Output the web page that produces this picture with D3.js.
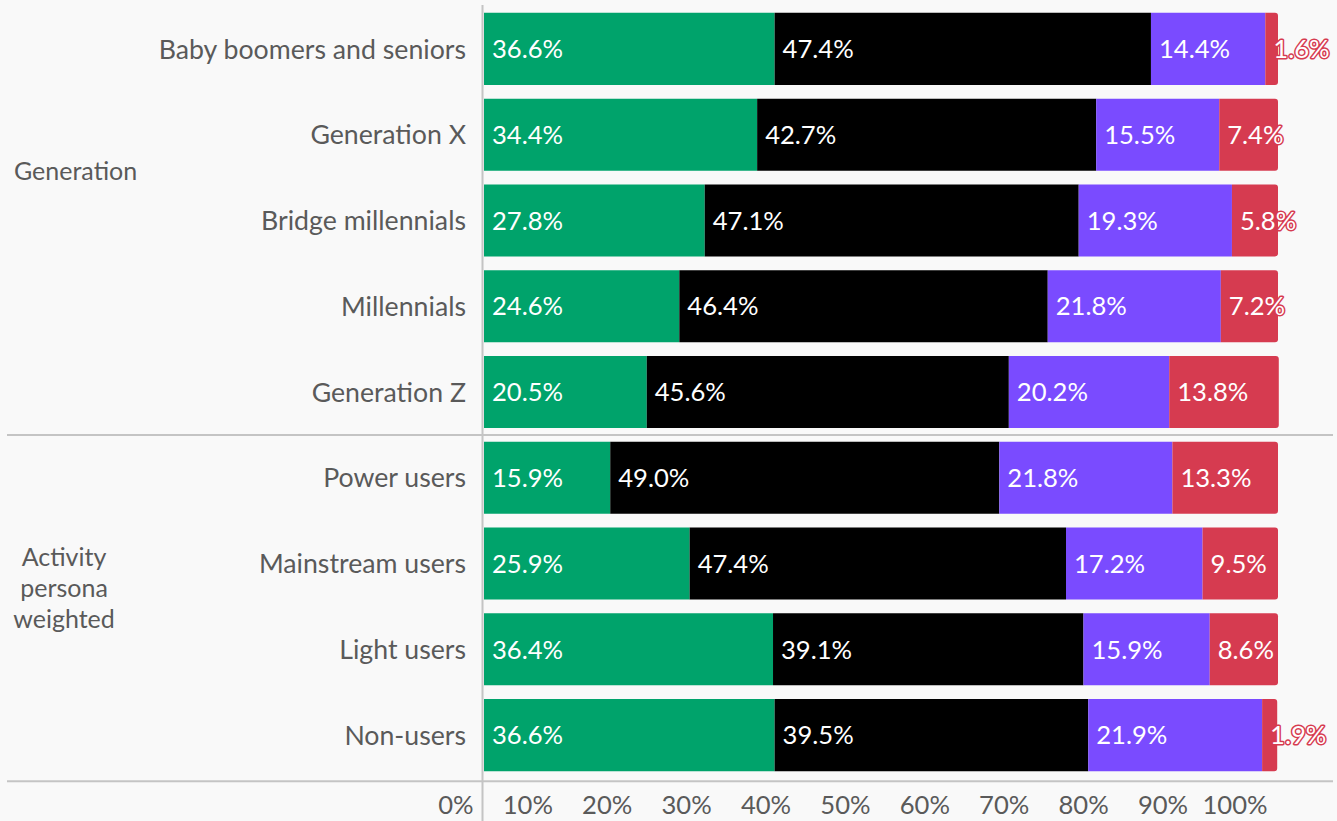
<!DOCTYPE html>
<html>
<head>
<meta charset="utf-8">
<script src="https://cdn.jsdelivr.net/npm/d3@7"></script>
<style>
  html, body { margin: 0; padding: 0; background: #f9f9f9; }
  svg { display: block; font-family: Lato, "Open Sans", sans-serif; }
</style>
</head>
<body>
<svg id="chart" width="1337" height="821"></svg>
<script>
// Row categories, top to bottom
const categories = [
  "Baby boomers and seniors", "Generation X", "Bridge millennials", "Millennials", "Generation Z",
  "Power users", "Mainstream users", "Light users", "Non-users"
];
// Group each row belongs to
const rowGroups = [
  "Generation", "Generation", "Generation", "Generation", "Generation",
  "Activity", "Activity", "Activity", "Activity"
];
// Stacked shares (%) per row, in stacking order
const seriesGreen  = [36.6, 34.4, 27.8, 24.6, 20.5, 15.9, 25.9, 36.4, 36.6];
const seriesBlack  = [47.4, 42.7, 47.1, 46.4, 45.6, 49.0, 47.4, 39.1, 39.5];
const seriesPurple = [14.4, 15.5, 19.3, 21.8, 20.2, 21.8, 17.2, 15.9, 21.9];
const seriesRed    = [1.6, 7.4, 5.8, 7.2, 13.8, 13.3, 9.5, 8.6, 1.9];
const tickValues = [0, 10, 20, 30, 40, 50, 60, 70, 80, 90, 100];
const groupLabels = [
  { name: "Generation", lines: ["Generation"] },
  { name: "Activity", lines: ["Activity", "persona", "weighted"] }
];

const series = [
  { key: "green",  values: seriesGreen,  color: "#00a36b" },
  { key: "black",  values: seriesBlack,  color: "#000000" },
  { key: "purple", values: seriesPurple, color: "#7a4bff" },
  { key: "red",    values: seriesRed,    color: "#d63b50" }
];

const svg = d3.select("#chart");
const W = 1337, H = 821;
const FS = 25;          // group labels
const FS_CAT = 26.7;    // row labels
const FS_VAL = 25.6;    // value and tick labels
const textGray = "#5a5a5a";
const ruleGray = "#c4c4c4";

const x = d3.scaleLinear().domain([0, 100]).range([484, 1278]);
const y = d3.scaleBand().domain(categories).range([6, 778]).paddingInner(0.16).paddingOuter(0.08);

// Build stacked rows
const rows = categories.map((c, i) => {
  const o = { category: c };
  series.forEach(s => o[s.key] = s.values[i]);
  return o;
});
const stack = d3.stack().keys(series.map(s => s.key));
const stacked = stack(rows);

// Group separators and bottom rule
const lastGen = categories[rowGroups.lastIndexOf("Generation")];
const firstAct = categories[rowGroups.indexOf("Activity")];
const sepY = (y(lastGen) + y.bandwidth() + y(firstAct)) / 2;
const bottomY = y(categories[categories.length - 1]) + y.bandwidth() + 10;
svg.append("line").attr("x1", 7).attr("x2", 1333).attr("y1", sepY).attr("y2", sepY)
  .attr("stroke", ruleGray).attr("stroke-width", 2);
svg.append("line").attr("x1", 7).attr("x2", 1333).attr("y1", bottomY).attr("y2", bottomY)
  .attr("stroke", ruleGray).attr("stroke-width", 2);

// Vertical axis line
svg.append("line").attr("x1", x(0) - 1.5).attr("x2", x(0) - 1.5).attr("y1", 5).attr("y2", H)
  .attr("stroke", ruleGray).attr("stroke-width", 2);

// Rounded-right rectangle path
function segPath(x0, x1, y0, h, roundRight) {
  const r = roundRight ? Math.min(3, (x1 - x0)) : 0;
  const p = d3.path();
  p.moveTo(x0, y0);
  p.lineTo(x1 - r, y0);
  if (r) p.arcTo(x1, y0, x1, y0 + r, r);
  p.lineTo(x1, y0 + h - r);
  if (r) p.arcTo(x1, y0 + h, x1 - r, y0 + h, r);
  p.lineTo(x0, y0 + h);
  p.closePath();
  return p.toString();
}

const layers = svg.append("g").selectAll("g.layer").data(stacked).join("g")
  .attr("class", "layer")
  .attr("fill", (d, i) => series[i].color);

layers.selectAll("path").data((d, i) => d.map(v => ({ v, si: i }))).join("path")
  .attr("d", d => segPath(x(d.v[0]), x(d.v[1]), y(d.v.data.category), y.bandwidth(), d.si === series.length - 1));

// Value labels
const labels = svg.append("g");
stacked.forEach((layer, si) => {
  layer.forEach(v => {
    const isRed = si === series.length - 1;
    labels.append("text")
      .attr("x", x(v[0]) + 8)
      .attr("y", y(v.data.category) + y.bandwidth() / 2)
      .attr("dy", "0.36em")
      .attr("font-size", FS_VAL)
      .attr("fill", "#ffffff")
      .attr("stroke", isRed ? series[si].color : "none")
      .attr("stroke-width", isRed ? 3 : 0)
      .attr("stroke-linejoin", "round")
      .attr("paint-order", "stroke")
      .text(d3.format(".1f")(series[si].values[categories.indexOf(v.data.category)]) + "%");
  });
});

// Category labels
svg.append("g").selectAll("text").data(categories).join("text")
  .attr("x", 466)
  .attr("y", d => y(d) + y.bandwidth() / 2)
  .attr("dy", "0.36em")
  .attr("text-anchor", "end")
  .attr("font-size", FS_CAT)
  .attr("fill", textGray)
  .text(d => d);

// Group labels
const genRows = categories.filter((c, i) => rowGroups[i] === "Generation");
const actRows = categories.filter((c, i) => rowGroups[i] === "Activity");
svg.append("text")
  .attr("x", 14)
  .attr("y", (y(genRows[0]) + y(genRows[genRows.length - 1]) + y.bandwidth()) / 2 - 49)
  .attr("dy", "0.36em")
  .attr("font-size", FS)
  .attr("fill", textGray)
  .text(groupLabels[0].lines[0]);

const actMid = (y(actRows[0]) + y(actRows[actRows.length - 1]) + y.bandwidth()) / 2 - 18;
const actText = svg.append("text")
  .attr("text-anchor", "middle")
  .attr("font-size", FS)
  .attr("fill", textGray);
groupLabels[1].lines.forEach((line, i, arr) => {
  actText.append("tspan")
    .attr("x", 64)
    .attr("y", actMid + (i - (arr.length - 1) / 2) * 31)
    .attr("dy", "0.36em")
    .text(line);
});

// Bottom axis tick labels
const axis = d3.axisBottom(x).tickValues(tickValues).tickFormat(d => d + "%").tickSize(0).tickPadding(0);
const axisG = svg.append("g").attr("transform", `translate(0, ${bottomY})`).call(axis);
axisG.select(".domain").remove();
axisG.selectAll("text")
  .attr("font-family", "Lato, 'Open Sans', sans-serif")
  .attr("font-size", FS_VAL)
  .attr("fill", textGray)
  .attr("text-anchor", "end")
  .attr("x", -11)
  .attr("y", 24)
  .attr("dy", "0.36em");
</script>
</body>
</html>
